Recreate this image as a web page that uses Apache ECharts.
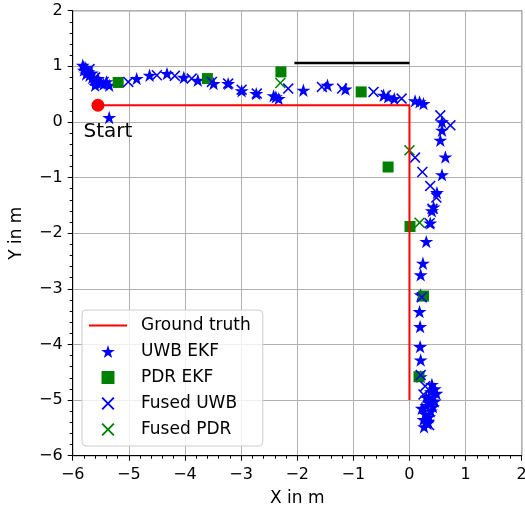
<!DOCTYPE html>
<html>
<head>
<meta charset="utf-8">
<script src="https://cdn.jsdelivr.net/npm/echarts@6/dist/echarts.min.js"></script>
<style>
  html, body { margin: 0; padding: 0; background: #fff; }
  #main { width: 525px; height: 509px; }
</style>
</head>
<body>
<div id="main"></div>
<script>
// values (metres)
var groundTruth = [[-5.55, 0.3], [0, 0.3], [0, -5]]
var startPoint = [[-5.55, 0.3]]
var blackBar = [[-2.05, 1.06], [0, 1.06]]

var uwbEkf = [
  [-5.82, 1.02], [-5.78, 0.98], [-5.80, 0.93], [-5.75, 0.95], [-5.72, 0.90], [-5.76, 0.86],
  [-5.70, 0.84], [-5.66, 0.88], [-5.65, 0.80], [-5.62, 0.76], [-5.58, 0.72], [-5.55, 0.78],
  [-5.50, 0.70], [-5.45, 0.68], [-5.40, 0.72], [-5.35, 0.66], [-5.60, 0.66],
  [-5.35, 0.08],
  [-4.86, 0.78], [-4.63, 0.84], [-4.32, 0.87], [-4.02, 0.80], [-3.77, 0.75], [-3.49, 0.69],
  [-3.23, 0.69], [-2.99, 0.56], [-2.73, 0.51], [-2.42, 0.47], [-2.33, 0.42], [-2.38, 0.45],
  [-1.89, 0.57], [-1.46, 0.66], [-1.14, 0.59], [-0.46, 0.48], [-0.38, 0.45], [-0.27, 0.42],
  [0.10, 0.38], [0.18, 0.36], [0.25, 0.33],
  [0.58, 0.00], [0.58, -0.15], [0.55, -0.33], [0.64, -0.63], [0.58, -0.95], [0.49, -1.27],
  [0.43, -1.53], [0.40, -1.60], [0.37, -1.82], [0.30, -2.15], [0.24, -2.54], [0.20, -2.75],
  [0.20, -3.11], [0.18, -3.41], [0.19, -3.68], [0.19, -4.04], [0.20, -4.28], [0.20, -4.58],
  [0.40, -4.72], [0.45, -4.80], [0.48, -4.88], [0.42, -4.95], [0.38, -4.85], [0.45, -5.02],
  [0.35, -5.05], [0.42, -5.12], [0.30, -5.10], [0.38, -5.20], [0.28, -5.25], [0.35, -5.30],
  [0.25, -5.35], [0.32, -5.42], [0.26, -5.48], [0.33, -5.38], [0.22, -5.15], [0.30, -4.95]
]

var pdrEkf = [
  [-5.19, 0.71], [-3.60, 0.78], [-2.29, 0.90], [-0.86, 0.54],
  [-0.38, -0.81], [0.01, -1.88], [0.25, -3.13], [0.17, -4.58]
]

var fusedUwb = [
  [-5.70, 0.95], [-5.60, 0.80], [-5.45, 0.72],
  [-5.01, 0.72], [-4.50, 0.84], [-4.18, 0.83], [-3.88, 0.78], [-3.52, 0.72], [-3.23, 0.69],
  [-2.99, 0.58], [-2.72, 0.51], [-2.16, 0.60], [-1.56, 0.63], [-1.20, 0.60], [-0.64, 0.54],
  [-0.42, 0.48], [-0.14, 0.42], [0.55, 0.12], [0.73, -0.06], [0.10, -0.64],
  [0.23, -0.90], [0.37, -1.15], [0.48, -1.36], [0.41, -1.56], [0.36, -1.82],
  [0.22, -3.15], [0.20, -4.55], [0.28, -4.75], [0.25, -4.90], [0.40, -5.00],
  [0.30, -5.30], [0.35, -5.45]
]

var fusedPdr = [[-2.30, 0.70], [0.00, -0.51], [0.18, -1.81]]

var legendNames = ['Ground truth', 'UWB EKF', 'PDR EKF', 'Fused UWB', 'Fused PDR']

var STAR = 'path://M50,0L61.2,34.5L97.6,34.5L68.2,55.9L79.4,90.5L50,69.1L20.6,90.5L31.8,55.9L2.4,34.5L38.8,34.5Z'
var SQUARE = 'path://M0,0L100,0L100,100L0,100Z'
var CROSS = 'path://M0,10L10,0L50,40L90,0L100,10L60,50L100,90L90,100L50,60L10,100L0,90L40,50Z'

var FONT = 'DejaVu Sans'
var minus = function (v) { return String(v).replace('-', '\u2212') }

var axisCommon = {
  type: 'value',
  min: -6,
  max: 2,
  interval: 1,
  nameLocation: 'middle',
  nameTextStyle: { fontFamily: FONT, fontSize: 17, color: '#000' },
  axisLine: { onZero: false, lineStyle: { color: '#000', width: 1 } },
  axisTick: { length: 5, lineStyle: { color: '#000' } },
  minorTick: { show: true, splitNumber: 5, length: 3, lineStyle: { color: '#000' } },
  splitLine: { lineStyle: { color: '#b0b0b0', width: 1 } },
  axisLabel: { fontFamily: FONT, fontSize: 16, color: '#000', formatter: minus }
}

var myChart = echarts.init(document.getElementById('main'))

var option = {
  animation: false,
  grid: {
    left: 72.7, right: 3.3, top: 10.7, bottom: 53.3,
    outerBoundsMode: 'none',
    containLabel: false,
    show: true, borderColor: '#000', borderWidth: 1
  },
  xAxis: Object.assign({}, axisCommon, {
    name: 'X in m', nameGap: 34,
    axisLabel: Object.assign({}, axisCommon.axisLabel, { margin: 11 })
  }),
  yAxis: Object.assign({}, axisCommon, {
    name: 'Y in m', nameGap: 48,
    axisLabel: Object.assign({}, axisCommon.axisLabel, { margin: 10 })
  }),
  legend: {
    data: [
      // hide the dot that line legend icons get, keep the red stroke
      { name: legendNames[0], itemStyle: { color: 'rgba(0,0,0,0)', borderWidth: 0 } },
      legendNames[1], legendNames[2], legendNames[3], legendNames[4]
    ],
    orient: 'vertical',
    left: 82,
    top: 310,
    itemWidth: 38,
    itemHeight: 13,
    itemGap: 9,
    padding: [7, 12, 8, 6],
    borderColor: '#cccccc',
    borderWidth: 1,
    borderRadius: 4,
    backgroundColor: 'rgba(255,255,255,0.8)',
    textStyle: { fontFamily: FONT, fontSize: 17, color: '#000', padding: [0, 0, 0, 9] }
  },
  series: [
    {
      name: 'Ground truth',
      type: 'line',
      data: groundTruth,
      symbol: 'none',
      lineStyle: { color: '#ff0000', width: 2 },
      itemStyle: { color: '#ff0000' }
    },
    {
      name: 'start',
      type: 'scatter',
      data: startPoint,
      symbol: 'circle',
      symbolSize: 13,
      itemStyle: { color: '#ff0000', opacity: 1 },
      label: {
        show: true,
        formatter: 'Start',
        position: 'bottom',
        offset: [10, 5],
        fontFamily: FONT,
        fontSize: 20,
        color: '#000'
      }
    },
    {
      name: 'UWB EKF',
      type: 'scatter',
      data: uwbEkf,
      symbol: STAR,
      symbolSize: 14,
      symbolKeepAspect: true,
      itemStyle: { color: '#0000ff', opacity: 1 }
    },
    {
      name: 'PDR EKF',
      type: 'scatter',
      data: pdrEkf,
      symbol: SQUARE,
      symbolSize: 11,
      symbolKeepAspect: true,
      itemStyle: { color: '#008000', opacity: 1 }
    },
    {
      name: 'Fused UWB',
      type: 'scatter',
      data: fusedUwb,
      symbol: CROSS,
      symbolSize: 11,
      symbolKeepAspect: true,
      itemStyle: { color: '#0000ff', opacity: 1 }
    },
    {
      name: 'Fused PDR',
      type: 'scatter',
      data: fusedPdr,
      symbol: CROSS,
      symbolSize: 11,
      symbolKeepAspect: true,
      itemStyle: { color: '#008000', opacity: 1 }
    },
    {
      name: 'bar',
      type: 'line',
      data: blackBar,
      symbol: 'none',
      lineStyle: { color: '#000', width: 2.5 }
    }
  ]
}

myChart.setOption(option)
</script>
</body>
</html>
